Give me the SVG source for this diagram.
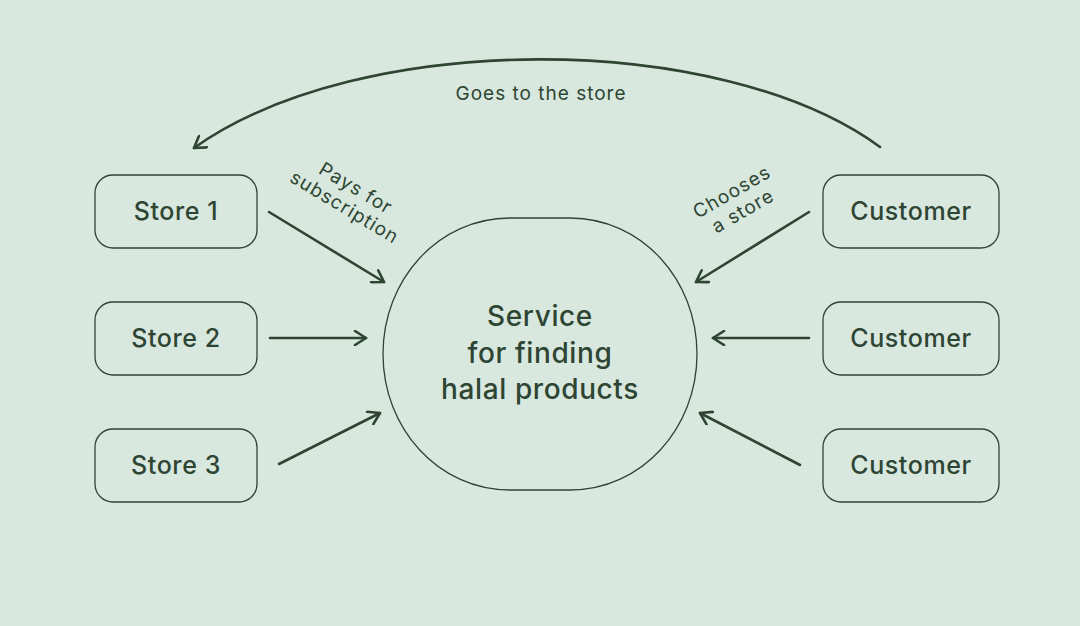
<svg xmlns="http://www.w3.org/2000/svg" width="1080" height="626" viewBox="0 0 1080 626">
<defs>
<style>
.bg{fill:#d8e8de}
.box{fill:none;stroke:#2e4533;stroke-width:1.3}
.lbl{font-family:Inter,"Open Sans","Liberation Sans",sans-serif;font-size:25px;fill:#2e4533;text-anchor:middle;font-weight:500;letter-spacing:0.6px}
.center{font-family:Inter,"Open Sans","Liberation Sans",sans-serif;font-size:28px;fill:#2e4533;text-anchor:middle;font-weight:500;letter-spacing:0.6px}
.small{font-family:Inter,"Open Sans","Liberation Sans",sans-serif;font-size:19px;fill:#2e4533;text-anchor:middle;font-weight:400;letter-spacing:1px}
.conn{fill:none;stroke:#2e4533;stroke-width:2.6;stroke-linecap:round}
</style>
<marker id="arr" viewBox="0 0 16 16" refX="14" refY="8" markerWidth="16" markerHeight="16" markerUnits="userSpaceOnUse" orient="auto">
<path d="M3,1 L14,8 L3,15" fill="none" stroke="#2e4533" stroke-width="2.6" stroke-linecap="round" stroke-linejoin="round"/>
</marker>
</defs>
<rect class="bg" x="0" y="0" width="1080" height="626"/>

<g id="service">
<path class="box" d="M510,218 L570,218 C642,218 697,280 697,354 C697,428 642,490 570,490 L510,490 C438,490 383,428 383,354 C383,280 438,218 510,218 Z"/>
<text class="center" x="540" y="326">Service</text>
<text class="center" x="540" y="363">for finding</text>
<text class="center" x="540" y="399">halal products</text>
</g>

<g id="store1"><rect class="box" x="95" y="175" width="162" height="73" rx="18"/><text class="lbl" x="176" y="220">Store 1</text></g>
<g id="store2"><rect class="box" x="95" y="302" width="162" height="73" rx="18"/><text class="lbl" x="176" y="347">Store 2</text></g>
<g id="store3"><rect class="box" x="95" y="429" width="162" height="73" rx="18"/><text class="lbl" x="176" y="474">Store 3</text></g>

<g id="customer1"><rect class="box" x="823" y="175" width="176" height="73" rx="18"/><text class="lbl" x="911" y="220">Customer</text></g>
<g id="customer2"><rect class="box" x="823" y="302" width="176" height="73" rx="18"/><text class="lbl" x="911" y="347">Customer</text></g>
<g id="customer3"><rect class="box" x="823" y="429" width="176" height="73" rx="18"/><text class="lbl" x="911" y="474">Customer</text></g>

<g id="connectors">
<path class="conn" d="M269,212 L384,282" marker-end="url(#arr)"/>
<path class="conn" d="M270,338 L366,338" marker-end="url(#arr)"/>
<path class="conn" d="M279,464 L380,413" marker-end="url(#arr)"/>
<path class="conn" d="M809,212 L696,282" marker-end="url(#arr)"/>
<path class="conn" d="M809,338 L713,338" marker-end="url(#arr)"/>
<path class="conn" d="M800,465 L700,413" marker-end="url(#arr)"/>
<path class="conn" d="M880,147 C720,30 360,30 194,148" marker-end="url(#arr)"/>
<text class="small" x="541" y="100">Goes to the store</text>
<g transform="translate(350,198) rotate(31)">
<text class="small" x="0" y="-5">Pays for</text>
<text class="small" x="0" y="17">subscription</text>
</g>
<g transform="translate(737,201) rotate(-30)">
<text class="small" x="0" y="-4">Chooses</text>
<text class="small" x="0" y="18">a store</text>
</g>
</g>
</svg>
